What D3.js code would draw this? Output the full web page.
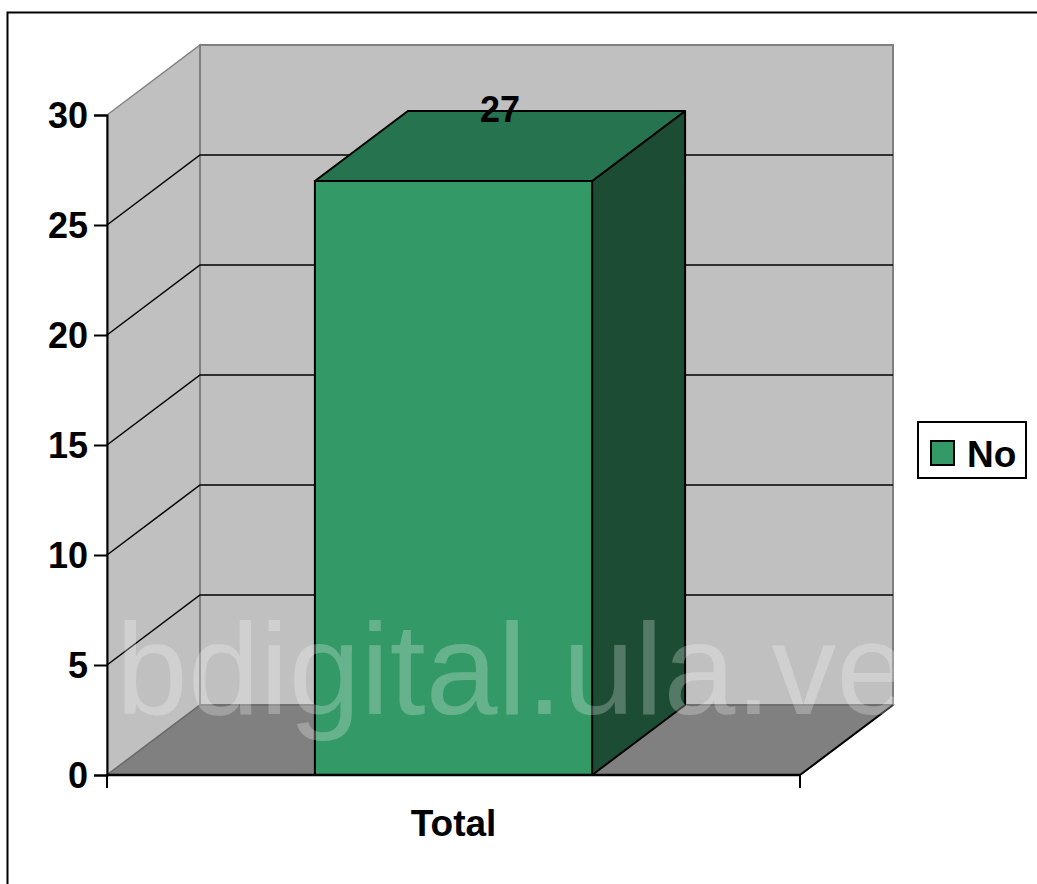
<!DOCTYPE html>
<html>
<head>
<meta charset="utf-8">
<script src="https://cdn.jsdelivr.net/npm/d3@7"></script>
<style>
  body { margin: 0; background: #fff; }
  svg text { font-family: "Liberation Sans", Arial, sans-serif; }
</style>
</head>
<body>
<div class="graph"></div>
<script>
const categories = ['Total'];
const seriesName = 'No';
const values = [27];
const yTicks = [0, 5, 10, 15, 20, 25, 30];

const W = 1037, H = 884;
const plotLeft = 107, plotRight = 800, plotBottom = 775, plotTop = 115;
const dx = 93, dy = -70;

const svg = d3.select('.graph').append('svg')
    .attr('width', W)
    .attr('height', H);

const scaleY = d3.scaleLinear()
    .domain([0, 30])
    .range([plotBottom, plotTop]);

const scaleX = d3.scaleBand()
    .domain(categories)
    .range([plotLeft, plotRight])
    .paddingInner(0)
    .paddingOuter(0.75);

const poly = pts => 'M' + pts.map(p => p.join(',')).join('L') + 'Z';

// walls
svg.append('path')
    .attr('d', poly([[plotLeft, plotBottom], [plotLeft, plotTop], [plotLeft + dx, plotTop + dy], [plotLeft + dx, plotBottom + dy]]))
    .attr('fill', '#c0c0c0')
    .attr('stroke', '#808080')
    .attr('stroke-width', 1.5);
svg.append('path')
    .attr('d', poly([[plotLeft + dx, plotBottom + dy], [plotLeft + dx, plotTop + dy], [plotRight + dx, plotTop + dy], [plotRight + dx, plotBottom + dy]]))
    .attr('fill', '#c0c0c0')
    .attr('stroke', '#808080')
    .attr('stroke-width', 2);
// floor
svg.append('path')
    .attr('d', poly([[plotLeft, plotBottom], [plotRight, plotBottom], [plotRight + dx, plotBottom + dy], [plotLeft + dx, plotBottom + dy]]))
    .attr('fill', '#808080')
    .attr('stroke', '#6a6a6a')
    .attr('stroke-width', 1.5);
svg.append('line')
    .attr('x1', plotRight).attr('y1', plotBottom)
    .attr('x2', plotRight + dx).attr('y2', plotBottom + dy)
    .attr('stroke', '#000').attr('stroke-width', 2);

// gridlines
const grid = yTicks.filter(v => v > 0 && v < 30);
svg.append('g').selectAll('path')
  .data(grid)
  .enter().append('path')
    .attr('d', v => 'M' + plotLeft + ',' + scaleY(v) + 'L' + (plotLeft + dx) + ',' + (scaleY(v) + dy) + 'L' + (plotRight + dx) + ',' + (scaleY(v) + dy))
    .attr('fill', 'none')
    .attr('stroke', '#000')
    .attr('stroke-width', 1.5);

// bar
const bars = svg.append('g').selectAll('g')
  .data(values)
  .enter().append('g');
bars.each(function (d, i) {
  const g = d3.select(this);
  const x0 = scaleX(categories[i]), x1 = x0 + scaleX.bandwidth();
  const y0 = scaleY(0), y1 = scaleY(d);
  g.append('path')
      .attr('d', poly([[x1, y0], [x1, y1], [x1 + dx, y1 + dy], [x1 + dx, y0 + dy]]))
      .attr('fill', '#1c4c34').attr('stroke', '#000').attr('stroke-width', 2).attr('stroke-linejoin', 'round');
  g.append('path')
      .attr('d', poly([[x0, y1], [x0 + dx, y1 + dy], [x1 + dx, y1 + dy], [x1, y1]]))
      .attr('fill', '#267350').attr('stroke', '#000').attr('stroke-width', 2).attr('stroke-linejoin', 'round');
  g.append('rect')
      .attr('x', x0).attr('y', y1)
      .attr('width', x1 - x0).attr('height', y0 - y1)
      .attr('fill', '#339966').attr('stroke', '#000').attr('stroke-width', 2);
  g.append('text')
      .attr('x', (x0 + x1) / 2 + dx / 2)
      .attr('y', y1 + dy + 11)
      .attr('text-anchor', 'middle')
      .attr('font-size', 36).attr('font-weight', 'bold')
      .text(d);
});

// y axis
const yAxis = d3.axisLeft(scaleY).tickValues(yTicks).tickSize(13).tickPadding(6);
const gy = svg.append('g')
    .attr('transform', 'translate(' + plotLeft + ',0)')
    .call(yAxis);
gy.select('.domain').attr('stroke', '#000').attr('stroke-width', 2);
gy.selectAll('.tick line').attr('stroke', '#000').attr('stroke-width', 2);
gy.selectAll('.tick text')
    .attr('font-size', 36).attr('font-weight', 'bold')
    .attr('font-family', '"Liberation Sans", Arial, sans-serif')
    .attr('fill', '#000')
    .attr('dy', '0.36em');

// x axis
svg.append('line')
    .attr('x1', plotLeft).attr('y1', plotBottom).attr('x2', plotRight).attr('y2', plotBottom)
    .attr('stroke', '#000').attr('stroke-width', 2.5);
svg.append('g').selectAll('line')
  .data(scaleX.range())
  .enter().append('line')
    .attr('x1', d => d).attr('x2', d => d)
    .attr('y1', plotBottom).attr('y2', plotBottom + 13)
    .attr('stroke', '#000').attr('stroke-width', 2);
svg.append('g').selectAll('text')
  .data(categories)
  .enter().append('text')
    .attr('x', d => scaleX(d) + scaleX.bandwidth() / 2)
    .attr('y', 836)
    .attr('text-anchor', 'middle')
    .attr('font-size', 37).attr('font-weight', 'bold')
    .text(d => d);

// legend
const legend = svg.append('g').attr('transform', 'translate(918,422)');
legend.append('rect')
    .attr('width', 108).attr('height', 56)
    .attr('fill', '#fff').attr('stroke', '#000').attr('stroke-width', 2);
legend.append('rect')
    .attr('x', 13).attr('y', 19).attr('width', 23).attr('height', 24)
    .attr('fill', '#339966').attr('stroke', '#000').attr('stroke-width', 2);
legend.append('text')
    .attr('x', 49).attr('y', 45)
    .attr('font-size', 37).attr('font-weight', 'bold')
    .text(seriesName);

// watermark
svg.append('text')
    .attr('x', 116).attr('y', 714)
    .attr('font-size', 129)
    .attr('fill', '#fff').attr('fill-opacity', 0.25)
    .attr('textLength', 792)
    .text('bdigital.ula.ve');

// outer frame
svg.append('rect')
    .attr('x', 7.5).attr('y', 12.5)
    .attr('width', W + 10).attr('height', H + 10)
    .attr('fill', 'none').attr('stroke', '#000').attr('stroke-width', 2);
</script>
</body>
</html>
